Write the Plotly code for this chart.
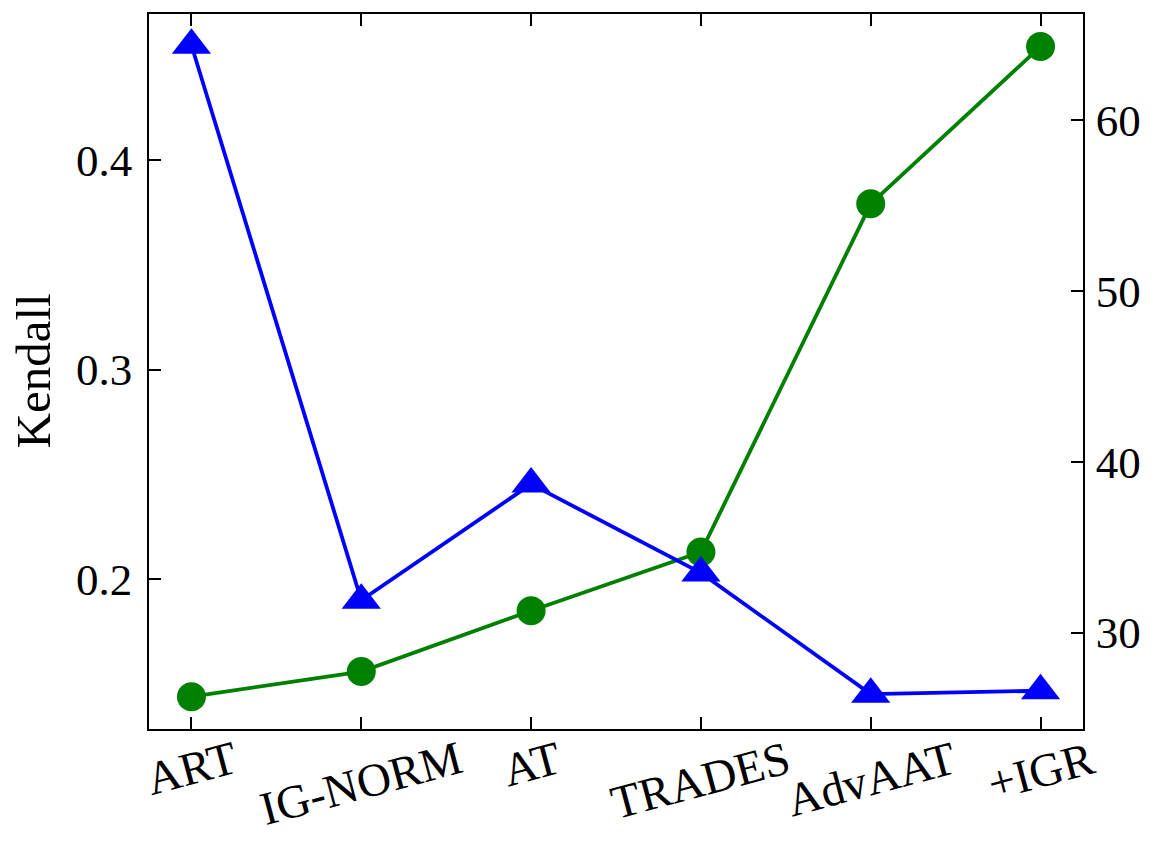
import plotly.graph_objects as go

categories = ["ART", "IG-NORM", "AT", "TRADES", "AdvAAT", "+IGR"]
kendall = [0.144, 0.156, 0.185, 0.213, 0.379, 0.454]
right_values = [64.4, 31.9, 38.7, 33.5, 26.4, 26.6]
left_ticks = [0.2, 0.3, 0.4]
right_ticks = [30, 40, 50, 60]

FONT = "Liberation Serif"
x_idx = list(range(len(categories)))

fig = go.Figure()
fig.add_trace(go.Scatter(
    x=x_idx, y=kendall, mode="lines+markers", yaxis="y",
    line=dict(color="#008000", width=3.8),
    marker=dict(symbol="circle", size=29, color="#008000"),
    showlegend=False,
))
fig.add_trace(go.Scatter(
    x=x_idx, y=right_values, mode="lines+markers", yaxis="y2",
    line=dict(color="#0000FF", width=3.8),
    marker=dict(symbol="triangle-up", size=34, color="#0000FF"),
    showlegend=False,
))

axis_common = dict(showline=True, linecolor="black", linewidth=1.6,
                   ticks="inside", ticklen=12, tickwidth=1.6, tickcolor="black",
                   showgrid=False, zeroline=False)

fig.update_layout(
    width=1157, height=858,
    margin=dict(l=149, r=74, t=14, b=129),
    paper_bgcolor="white", plot_bgcolor="white",
    font=dict(family=FONT, size=45, color="black"),
    xaxis=dict(**axis_common, mirror="ticks", range=[-0.25, 5.25],
               tickmode="array", tickvals=x_idx, showticklabels=False),
    yaxis=dict(**axis_common, range=[0.1286, 0.4695], tickmode="array",
               tickvals=left_ticks, ticktext=[f"{v:.1f}" for v in left_ticks],
               tickfont=dict(size=45), ticklabelstandoff=6),
    yaxis2=dict(**axis_common, overlaying="y", side="right",
                range=[24.36, 66.23], tickmode="array", tickvals=right_ticks,
                tickfont=dict(size=45), ticklabelstandoff=2),
)

for i, c in enumerate(categories):
    fig.add_annotation(x=i, y=0, xref="x", yref="paper", text=c,
                       showarrow=False, textangle=-15, xanchor="center",
                       yanchor="top", yshift=0, font=dict(size=47))

fig.add_annotation(x=0, y=0.5, xref="paper", yref="paper", text="Kendall",
                   showarrow=False, textangle=-90, xanchor="center",
                   yanchor="middle", xshift=-116, borderpad=0,
                   font=dict(size=49))

fig.write_html("out.html",
               config={"displayModeBar": False},
               post_script="document.body.style.margin='0';")
